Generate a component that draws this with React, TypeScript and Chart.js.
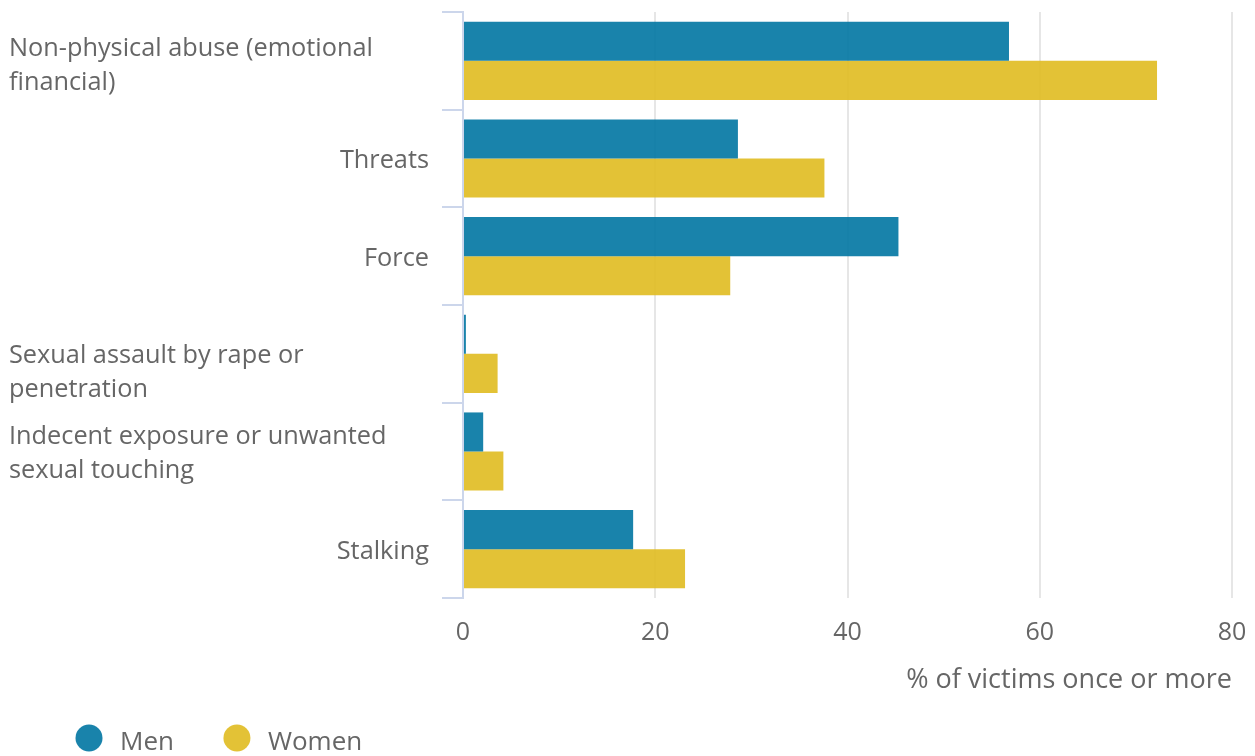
import React, { useEffect, useRef } from "react";
import { Chart, registerables } from "chart.js";

Chart.register(...registerables);

const categories: string[][] = [
  ["Non-physical abuse (emotional", "financial)"],
  ["Threats"],
  ["Force"],
  ["Sexual assault by rape or", "penetration"],
  ["Indecent exposure or unwanted", "sexual touching"],
  ["Stalking"],
];
const menValues = [56.8, 28.6, 45.3, 0.3, 2.1, 17.7];
const womenValues = [72.2, 37.6, 27.8, 3.6, 4.2, 23.1];
const seriesNames = ["Men", "Women"];
const xTicks = [0, 20, 40, 60, 80];
const xTitle = "% of victims once or more";

const FONT = '"Open Sans", "Noto Sans", sans-serif';
const TEXT = "#666666";
const MEN_COLOR = "rgba(0,118,162,0.9)";
const WOMEN_COLOR = "rgba(224,187,32,0.9)";
// first-line baseline offset from category centre for wrapped labels
const wrapOffsets = [-5, 0, 0, 9, -8, 0];

const yLabelPlugin = {
  id: "yLabels",
  afterDraw(chart: any) {
    const ctx = chart.ctx;
    const y = chart.scales.y;
    ctx.save();
    ctx.font = `25.3px ${FONT}`;
    ctx.fillStyle = TEXT;
    ctx.textBaseline = "alphabetic";
    categories.forEach((lines, i) => {
      const c = y.getPixelForTick(i);
      if (lines.length === 1) {
        ctx.textAlign = "right";
        ctx.fillText(lines[0], 429, c + 9.5);
      } else {
        ctx.textAlign = "left";
        lines.forEach((ln, j) => {
          ctx.fillText(ln, 9, c + wrapOffsets[i] + j * 34.5);
        });
      }
    });
    ctx.restore();
  },
};

const legendPlugin = {
  id: "customLegend",
  afterDraw(chart: any) {
    const ctx = chart.ctx;
    ctx.save();
    ctx.font = `26px ${FONT}`;
    ctx.textBaseline = "alphabetic";
    ctx.textAlign = "left";
    let cx = 89;
    chart.data.datasets.forEach((ds: any) => {
      ctx.fillStyle = ds.backgroundColor;
      ctx.beginPath();
      ctx.arc(cx, 738, 13.5, 0, Math.PI * 2);
      ctx.fill();
      ctx.fillStyle = TEXT;
      const tx = cx + 31;
      ctx.fillText(ds.label, tx, 750);
      cx = tx + ctx.measureText(ds.label).width + 63;
    });
    ctx.restore();
  },
};

export default function App() {
  const ref = useRef<HTMLCanvasElement | null>(null);
  useEffect(() => {
    if (!ref.current) return;
    const chart = new Chart(ref.current, {
      type: "bar",
      data: {
        labels: categories.map((c) => c.join(" ")),
        datasets: [
          {
            label: seriesNames[0],
            data: menValues,
            backgroundColor: MEN_COLOR,
            categoryPercentage: 0.8,
            barPercentage: 1.0,
          },
          {
            label: seriesNames[1],
            data: womenValues,
            backgroundColor: WOMEN_COLOR,
            categoryPercentage: 0.8,
            barPercentage: 1.0,
          },
        ],
      },
      options: {
        indexAxis: "y",
        responsive: false,
        animation: false,
        layout: { padding: { top: 12, right: 23, left: 0, bottom: 40 } },
        plugins: {
          legend: { display: false },
          tooltip: { enabled: false },
        },
        scales: {
          x: {
            min: xTicks[0],
            max: xTicks[xTicks.length - 1],
            afterBuildTicks: (scale: any) => {
              scale.ticks = xTicks.map((v) => ({ value: v }));
            },
            afterFit: (scale: any) => {
              scale.height = 118;
              scale.paddingRight = 0;
              scale.paddingLeft = 0;
            },
            grid: {
              drawTicks: false,
              color: (ctx: any) => (ctx.index === 0 ? "rgba(0,0,0,0)" : "#e6e6e6"),
              lineWidth: 2,
            },
            border: { display: false },
            ticks: {
              padding: 20,
              color: TEXT,
              font: { family: FONT, size: 25 },
            },
            title: {
              display: true,
              text: xTitle,
              align: "end",
              color: TEXT,
              font: { family: FONT, size: 27 },
              padding: { top: 0, bottom: 19 },
            },
          },
          y: {
            afterFit: (scale: any) => {
              scale.width = 463;
            },
            ticks: { display: false },
            grid: {
              drawOnChartArea: false,
              drawTicks: true,
              tickLength: 21,
              color: "#ccd6eb",
              lineWidth: 2,
            },
            border: { display: true, color: "#ccd6eb", width: 2 },
          },
        },
      },
      plugins: [yLabelPlugin, legendPlugin],
    } as any);
    return () => chart.destroy();
  }, []);
  return (
    <div style={{ position: "absolute", left: 0, top: 0, width: 1255, height: 756, overflow: "hidden", background: "#fff" }}>
      <canvas ref={ref} width={1255} height={756} style={{ display: "block" }} />
    </div>
  );
}
